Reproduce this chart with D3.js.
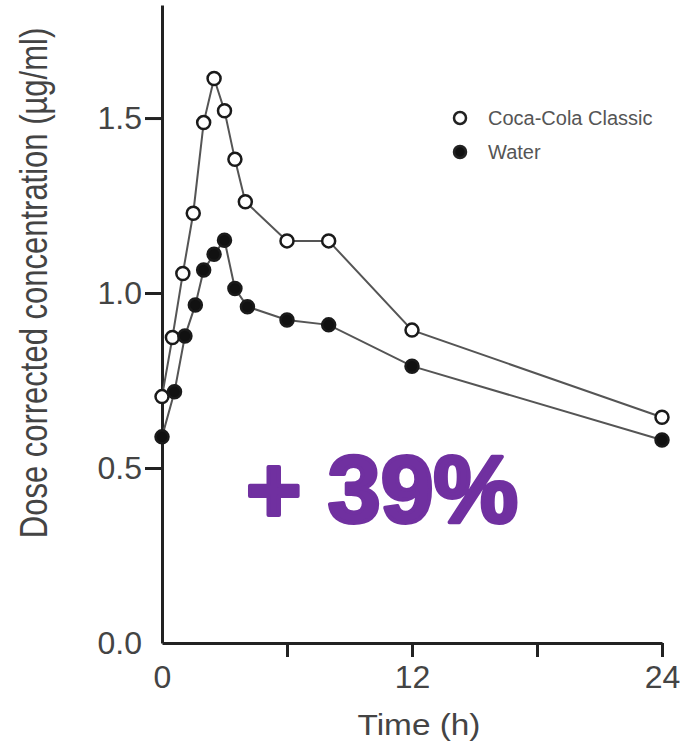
<!DOCTYPE html>
<html>
<head>
<meta charset="utf-8">
<script src="https://cdn.jsdelivr.net/npm/d3@7"></script>
<style>
  body { margin: 0; background: #fff; }
  text { font-family: "Liberation Sans", Arial, sans-serif; }
</style>
</head>
<body>
<div id="vis"></div>
<script>
// values (time in h, dose corrected conc. in ug/ml)
var colaTimes = [0, 0.5, 1, 1.5, 2, 2.5, 3, 3.5, 4, 6, 8, 12, 24]
var colaConc = [0.704, 0.873, 1.056, 1.228, 1.487, 1.613, 1.521, 1.382, 1.261, 1.149, 1.149, 0.894, 0.645]
var waterTimes = [0, 0.6, 1.1, 1.6, 2, 2.5, 3, 3.5, 4.1, 6, 8, 12, 24]
var waterConc = [0.589, 0.718, 0.877, 0.966, 1.066, 1.111, 1.151, 1.013, 0.961, 0.923, 0.909, 0.791, 0.58]
var xTicks = [0, 6, 12, 18, 24]
var xLabels = ["0", "", "12", "", "24"]
var yTicks = [0, 0.5, 1.0, 1.5]
var legendNames = ["Coca-Cola Classic", "Water"]

var width = 691, height = 745
var svg = d3.select("#vis").append("svg")
    .attr("width", width)
    .attr("height", height)

var x = d3.scaleLinear().domain([0, 24]).range([162, 662])
var y = d3.scaleLinear().domain([0, 1.823]).range([643, 5])

var cola = colaTimes.map(function(t, i){ return {t: t, v: colaConc[i]} })
var water = waterTimes.map(function(t, i){ return {t: t, v: waterConc[i]} })

// x axis
var gx = svg.append("g")
    .attr("transform", "translate(0," + y(0) + ")")
    .call(d3.axisBottom(x).tickValues(xTicks).tickSize(14).tickSizeOuter(0).tickPadding(8)
      .tickFormat(function(d, i){ return xLabels[i] }))
gx.select(".domain").attr("stroke", "#222").attr("stroke-width", 3)
gx.selectAll(".tick line").attr("stroke", "#222").attr("stroke-width", 3)
  .filter(function(d){ return d === 0 }).remove()
gx.selectAll(".tick text").attr("font-size", 32).attr("fill", "#444")
  .attr("font-family", "Liberation Sans, Arial, sans-serif")

// y axis
var gy = svg.append("g")
    .attr("transform", "translate(" + x(0) + ",0)")
    .call(d3.axisLeft(y).tickValues(yTicks).tickSize(17).tickSizeOuter(0).tickPadding(3)
      .tickFormat(d3.format(".1f")))
gy.select(".domain").attr("stroke", "#222").attr("stroke-width", 3)
gy.selectAll(".tick line").attr("stroke", "#222").attr("stroke-width", 3)
  .filter(function(d){ return d === 0 }).remove()
gy.selectAll(".tick text").attr("font-size", 32).attr("fill", "#444")
  .attr("font-family", "Liberation Sans, Arial, sans-serif")

// axis titles
svg.append("text")
    .attr("transform", "translate(419,735) scale(1.15,1)")
    .attr("text-anchor", "middle")
    .attr("font-size", 29)
    .attr("fill", "#444")
    .text("Time (h)")

svg.append("text")
    .attr("transform", "translate(47,283) scale(1.25,1) rotate(-90)")
    .attr("text-anchor", "middle")
    .attr("font-size", 31)
    .attr("fill", "#444")
    .text("Dose corrected concentration (\u00b5g/ml)")

var line = d3.line()
    .x(function(d){ return x(d.t) })
    .y(function(d){ return y(d.v) })

function drawSeries(data, fill){
  svg.append("path")
      .datum(data)
      .attr("fill", "none")
      .attr("stroke", "#555")
      .attr("stroke-width", 2)
      .attr("d", line)
  svg.append("g").selectAll("circle")
      .data(data)
      .enter()
      .append("circle")
        .attr("cx", function(d){ return x(d.t) })
        .attr("cy", function(d){ return y(d.v) })
        .attr("r", 6.5)
        .attr("fill", fill)
        .attr("stroke", "#1a1a1a")
        .attr("stroke-width", 2.5)
}
drawSeries(cola, "#fff")
drawSeries(water, "#111")

// legend
var legend = svg.append("g").selectAll("g")
    .data(legendNames)
    .enter()
    .append("g")
      .attr("transform", function(d, i){ return "translate(460," + (118 + i * 34) + ")" })
legend.append("circle")
    .attr("r", 6)
    .attr("fill", function(d, i){ return i === 0 ? "#fff" : "#111" })
    .attr("stroke", "#222")
    .attr("stroke-width", 2.5)
legend.append("text")
    .attr("x", 28).attr("dy", "0.36em")
    .attr("font-size", 20)
    .attr("fill", "#555")
    .text(function(d){ return d })

// annotation
svg.append("text")
    .attr("x", 246).attr("y", 522)
    .attr("font-size", 95)
    .attr("font-weight", "bold")
    .attr("fill", "#7030a0")
    .attr("stroke", "#7030a0")
    .attr("stroke-width", 4)
    .attr("stroke-linejoin", "round")
    .text("+ 39%")
</script>
</body>
</html>
